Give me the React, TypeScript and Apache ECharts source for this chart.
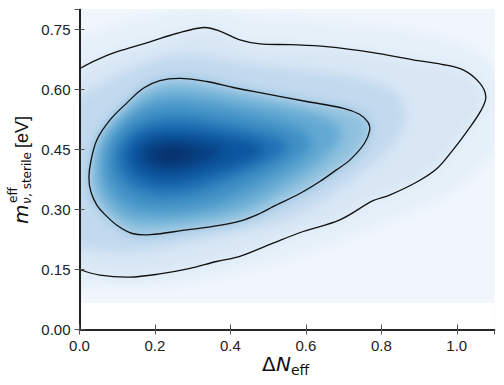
import React, { useEffect, useRef } from "react";
import * as echarts from "echarts";

// ---- axes ----
const X_MIN = 0;
const X_MAX = 1.1;
const Y_MIN = 0;
const Y_MAX = 0.8;
const X_INTERVAL = 0.2;
const Y_INTERVAL = 0.15;
const PRIOR_LOW = 0.067; // density is zero below this mass

// ---- contour lines ----
const CONTOUR_95: number[][] = [
  [0, 0.652], [0.046, 0.674], [0.098, 0.694], [0.187, 0.719], [0.257, 0.74], [0.33, 0.755],
  [0.372, 0.746], [0.425, 0.724], [0.478, 0.714], [0.56, 0.712], [0.655, 0.707], [0.778, 0.692],
  [0.884, 0.674], [0.96, 0.663], [1.017, 0.649], [1.061, 0.616], [1.077, 0.582], [1.065, 0.549],
  [1.03, 0.499], [0.99, 0.449], [0.946, 0.401], [0.893, 0.368], [0.822, 0.336], [0.778, 0.322],
  [0.69, 0.274], [0.593, 0.245], [0.513, 0.216], [0.425, 0.183], [0.363, 0.17], [0.29, 0.152],
  [0.213, 0.139], [0.134, 0.131], [0.054, 0.136], [0, 0.15],
];
const CONTOUR_68: number[][] = [
  [0.025, 0.38], [0.03, 0.42], [0.046, 0.474], [0.081, 0.524], [0.125, 0.566], [0.169, 0.603],
  [0.213, 0.622], [0.266, 0.628], [0.337, 0.62], [0.407, 0.605], [0.478, 0.592], [0.602, 0.57],
  [0.7, 0.553], [0.742, 0.538], [0.765, 0.518], [0.769, 0.497], [0.755, 0.465], [0.717, 0.424],
  [0.681, 0.399], [0.637, 0.37], [0.584, 0.34], [0.513, 0.307], [0.478, 0.29], [0.425, 0.271],
  [0.35, 0.257], [0.284, 0.249], [0.187, 0.237], [0.14, 0.24], [0.1, 0.26], [0.07, 0.285],
  [0.046, 0.311], [0.03, 0.345],
];

// ---- density shading iso-levels, outermost first ----
const DENSITY_BASE: number[][] = [[-0.15, -0.1], [1.25, -0.1], [1.25, 0.9], [-0.15, 0.9]];
const DENSITY_HALO: number[][] = [
  [-0.15, 0.73], [0, 0.735], [0.1, 0.765], [0.2, 0.79], [0.3, 0.805], [0.38, 0.8], [0.45, 0.785],
  [0.6, 0.775], [0.75, 0.765], [0.9, 0.745], [1.0, 0.72], [1.08, 0.68], [1.13, 0.6], [1.13, 0.5],
  [1.08, 0.42], [1.0, 0.35], [0.9, 0.3], [0.8, 0.26], [0.65, 0.205], [0.5, 0.16], [0.35, 0.125],
  [0.2, 0.105], [0.05, 0.105], [-0.15, 0.11],
];
const DENSITY_95: number[][] = [[-0.15, 0.64], ...CONTOUR_95, [-0.15, 0.16]];
const DENSITY_MID: number[][] = [
  [-0.15, 0.21], [0, 0.205], [0.05, 0.198], [0.1, 0.193], [0.2, 0.2], [0.3, 0.22], [0.4, 0.24],
  [0.5, 0.262], [0.6, 0.297], [0.68, 0.345], [0.76, 0.4], [0.82, 0.45], [0.855, 0.5], [0.865, 0.54],
  [0.845, 0.585], [0.8, 0.612], [0.72, 0.632], [0.6, 0.648], [0.45, 0.665], [0.33, 0.685],
  [0.27, 0.688], [0.2, 0.675], [0.1, 0.635], [0.04, 0.605], [0, 0.585], [-0.15, 0.575],
];
const DENSITY_68: number[][] = CONTOUR_68;
const DENSITY_L5: number[][] = [
  [0.045, 0.4], [0.055, 0.47], [0.09, 0.515], [0.13, 0.55], [0.18, 0.583], [0.24, 0.598],
  [0.33, 0.592], [0.45, 0.572], [0.57, 0.55], [0.66, 0.525], [0.695, 0.495], [0.68, 0.46],
  [0.64, 0.42], [0.58, 0.38], [0.5, 0.335], [0.42, 0.3], [0.33, 0.28], [0.24, 0.27],
  [0.16, 0.27], [0.11, 0.285], [0.07, 0.32], [0.05, 0.36],
];
const DENSITY_L6: number[][] = [
  [0.065, 0.41], [0.075, 0.46], [0.105, 0.505], [0.16, 0.545], [0.23, 0.565], [0.32, 0.56],
  [0.43, 0.542], [0.54, 0.517], [0.6, 0.492], [0.615, 0.46], [0.575, 0.42], [0.5, 0.378],
  [0.42, 0.338], [0.33, 0.308], [0.24, 0.297], [0.16, 0.302], [0.105, 0.33], [0.075, 0.37],
];
const DENSITY_L7: number[][] = [
  [0.095, 0.42], [0.105, 0.462], [0.14, 0.498], [0.2, 0.523], [0.28, 0.528], [0.38, 0.513],
  [0.48, 0.493], [0.55, 0.467], [0.54, 0.44], [0.48, 0.408], [0.39, 0.372], [0.3, 0.342],
  [0.21, 0.335], [0.15, 0.352], [0.11, 0.383],
];
const DENSITY_L8: number[][] = [
  [0.125, 0.43], [0.145, 0.472], [0.2, 0.495], [0.28, 0.498], [0.37, 0.487], [0.46, 0.467],
  [0.49, 0.447], [0.45, 0.423], [0.36, 0.393], [0.27, 0.368], [0.2, 0.368], [0.145, 0.395],
];
const DENSITY_L9: number[][] = [
  [0.16, 0.435], [0.185, 0.465], [0.24, 0.475], [0.31, 0.468], [0.38, 0.45], [0.34, 0.422],
  [0.26, 0.398], [0.195, 0.403],
];
const DENSITY_PEAK: number[][] = [[0.19, 0.437], [0.235, 0.455], [0.29, 0.45], [0.29, 0.425], [0.22, 0.42]];

const LEVELS = [
  DENSITY_BASE, DENSITY_HALO, DENSITY_95, DENSITY_MID, DENSITY_68, DENSITY_L5,
  DENSITY_L6, DENSITY_L7, DENSITY_L8, DENSITY_L9, DENSITY_PEAK,
];
const LEVEL_COLORS = [
  "#f1f6fc", "#e6f0f9", "#d9e7f5", "#c2d9ee", "#8fc1de", "#63a9d3",
  "#4090c5", "#2171b5", "#0b559e", "#083f80", "#08306b",
];

const CONTOURS = [CONTOUR_95, CONTOUR_68];
const PRIOR_CUT: number[][] = [[X_MIN, Y_MIN], [X_MAX, PRIOR_LOW]];

const GRID = { left: 79.5, right: 9.5, top: 9.5, bottom: 55.5 };

export default function App() {
  const densRef = useRef<HTMLDivElement>(null);
  const ref = useRef<HTMLDivElement>(null);
  useEffect(() => {
    if (!ref.current || !densRef.current) return;
    // density layer (softened with a CSS blur, clipped to the plot area)
    const dens = echarts.init(densRef.current, null, { renderer: "svg" });
    dens.setOption({
      animation: false,
      grid: GRID,
      xAxis: { type: "value", min: X_MIN, max: X_MAX, show: false },
      yAxis: { type: "value", min: Y_MIN, max: Y_MAX, show: false },
      series: [
        {
          type: "custom",
          name: "density",
          clip: false,
          silent: true,
          data: LEVELS.map((_, i) => [i]),
          renderItem: (params: any, api: any) => {
            const i = params.dataIndex;
            const pts = LEVELS[i].map((p) => api.coord(p));
            return {
              type: "polygon",
              shape: { points: pts, smooth: i === 0 ? 0 : 0.35 },
              style: { fill: LEVEL_COLORS[i] },
            };
          },
        },
      ],
    });

    const chart = echarts.init(ref.current, null, { renderer: "svg" });
    const frame = { show: true, lineStyle: { color: "#1a1a1a", width: 1.6 } };
    const tick = { show: true, inside: true, length: 5, lineStyle: { color: "#555", width: 1 } };
    const labelFont = { fontFamily: "Liberation Sans", fontSize: 15, color: "#222" };
    chart.setOption({
      animation: false,
      grid: GRID,
      xAxis: [
        {
          type: "value", min: X_MIN, max: X_MAX, interval: X_INTERVAL, z: 10,
          axisLine: frame, axisTick: tick, splitLine: { show: false },
          axisLabel: { ...labelFont, margin: 8, showMaxLabel: false, formatter: (v: number) => v.toFixed(1) },
        },
        {
          type: "value", position: "top", min: X_MIN, max: X_MAX, interval: X_INTERVAL, z: 10,
          axisLine: frame, axisTick: tick, splitLine: { show: false }, axisLabel: { show: false },
        },
      ],
      yAxis: [
        {
          type: "value", min: Y_MIN, max: Y_MAX, interval: Y_INTERVAL, z: 10,
          axisLine: frame, axisTick: tick, splitLine: { show: false },
          axisLabel: { ...labelFont, margin: 9, showMaxLabel: false, formatter: (v: number) => v.toFixed(2) },
        },
        {
          type: "value", position: "right", min: Y_MIN, max: Y_MAX, interval: Y_INTERVAL, z: 10,
          axisLine: frame, axisTick: tick, splitLine: { show: false }, axisLabel: { show: false },
        },
      ],
      series: [
        {
          type: "custom",
          name: "prior cut",
          clip: true,
          silent: true,
          data: [[0]],
          renderItem: (_params: any, api: any) => {
            const a = api.coord(PRIOR_CUT[0]);
            const b = api.coord(PRIOR_CUT[1]);
            return {
              type: "rect",
              shape: { x: a[0], y: b[1], width: b[0] - a[0], height: a[1] - b[1] },
              style: { fill: "#ffffff" },
            };
          },
          z: 2,
        },
        {
          type: "custom",
          name: "contours",
          clip: true,
          silent: true,
          data: CONTOURS.map((_, i) => [i]),
          renderItem: (params: any, api: any) => {
            const i = params.dataIndex;
            const pts = CONTOURS[i].map((p) => api.coord(p));
            return {
              type: i === 0 ? "polyline" : "polygon",
              shape: { points: pts, smooth: 0.35 },
              style: { fill: "none", stroke: "#111", lineWidth: 1.3 },
            };
          },
          z: 3,
        },
      ],
      graphic: [
        {
          type: "group",
          x: 28,
          y: 224,
          rotation: Math.PI / 2,
          children: [
            { type: "text", x: 0, y: -7, style: { text: "m", font: 'italic 20px "DejaVu Sans"', fill: "#111", verticalAlign: "middle" } },
            { type: "text", x: 21, y: -15, style: { text: "eff", font: '12px "DejaVu Sans"', fill: "#111", verticalAlign: "middle" } },
            { type: "text", x: 20, y: -1.5, style: { text: "ν", font: 'italic 12px "DejaVu Sans"', fill: "#111", verticalAlign: "middle" } },
            { type: "text", x: 27, y: -1.5, style: { text: ", sterile", font: '12px "DejaVu Sans"', fill: "#111", verticalAlign: "middle" } },
            { type: "text", x: 76, y: -6.3, style: { text: "[eV]", font: '18px "Liberation Sans"', fill: "#111", verticalAlign: "middle" } },
          ],
        },
        {
          type: "group",
          x: 262,
          y: 371,
          children: [
            { type: "text", x: 0, y: -7, style: { text: "Δ", font: '20px "DejaVu Sans"', fill: "#111", verticalAlign: "middle" } },
            { type: "text", x: 14, y: -7, style: { text: "N", font: 'italic 20px "DejaVu Sans"', fill: "#111", verticalAlign: "middle" } },
            { type: "text", x: 29, y: -1, style: { text: "eff", font: '14px "DejaVu Sans"', fill: "#111", verticalAlign: "middle" } },
          ],
        },
      ],
    });
    return () => {
      chart.dispose();
      dens.dispose();
    };
  }, []);
  return (
    <div style={{ position: "fixed", left: 0, top: 0, width: 504, height: 385, background: "#fff" }}>
      <div style={{ position: "absolute", left: 79, top: 9, width: 416, height: 321, overflow: "hidden" }}>
        <div
          ref={densRef}
          style={{ position: "absolute", left: -79, top: -9, width: 504, height: 385, filter: "blur(6px)" }}
        />
      </div>
      <div ref={ref} style={{ position: "absolute", left: 0, top: 0, width: 504, height: 385 }} />
    </div>
  );
}
